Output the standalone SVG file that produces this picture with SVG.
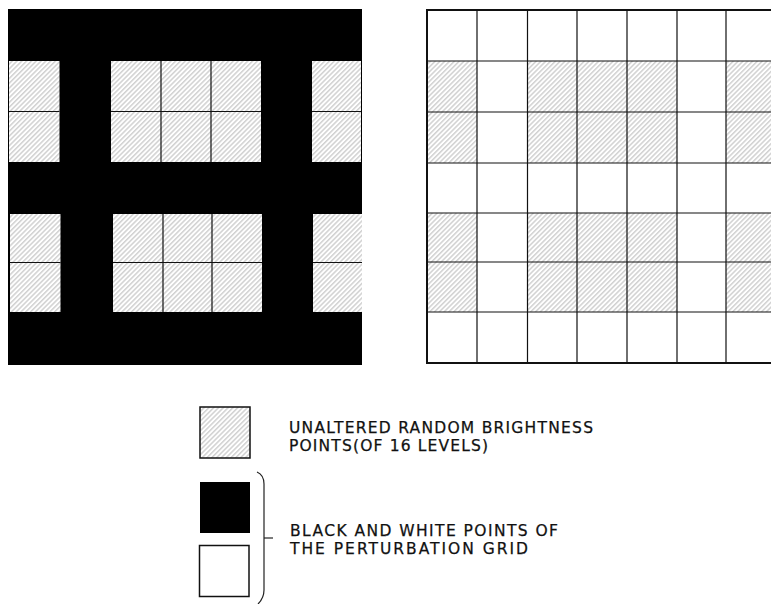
<svg xmlns="http://www.w3.org/2000/svg" width="771" height="604" viewBox="0 0 771 604">
  <defs>
    <pattern id="hatch" patternUnits="userSpaceOnUse" width="3.4" height="10" patternTransform="rotate(45)">
      <rect width="3.4" height="10" fill="#ffffff"/>
      <line x1="0.8" y1="0" x2="0.8" y2="10" stroke="#9a9a9a" stroke-width="0.75"/>
    </pattern>
  </defs>
  <style>
    .h { fill: url(#hatch); }
    .gl { stroke: #111; stroke-width: 1.2; fill: none; }
    .frame { stroke: #111; stroke-width: 2; fill: none; }
    .lbl { font-family: "DejaVu Sans", "Liberation Sans", sans-serif; font-size: 15.5px; fill: #111; stroke: #111; stroke-width: 0.25; }
    .brace { stroke: #222; stroke-width: 1.2; fill: none; }
  </style>
  <rect width="771" height="604" fill="#ffffff"/>

  <g id="left-grid">
    <rect x="8" y="9" width="354" height="356" fill="#000"/>
    <rect class="h" x="9" y="61" width="50.5" height="101"/>
    <rect class="h" x="111" y="61" width="150" height="101"/>
    <rect class="h" x="312" y="61" width="49" height="101"/>
    <rect class="h" x="10" y="214" width="50.5" height="98"/>
    <rect class="h" x="113" y="214" width="149" height="98"/>
    <rect class="h" x="313" y="214" width="49" height="98"/>
    <path class="gl" d="M9,111.5H59.5M111,111.5H261M312,111.5H361M161,61V162M211,61V162M10,262.5H60.5M113,262.5H262M313,262.5H362M163,214V312M212,214V312"/>
  </g>

  <g id="right-grid">
    <rect class="h" x="427" y="61" width="50" height="102"/>
    <rect class="h" x="527.5" y="61" width="149.5" height="102"/>
    <rect class="h" x="726" y="61" width="50" height="102"/>
    <rect class="h" x="427" y="213" width="50" height="99"/>
    <rect class="h" x="527.5" y="213" width="149.5" height="99"/>
    <rect class="h" x="726" y="213" width="50" height="99"/>
    <path class="gl" d="M477,10V363M527.5,10V363M577,10V363M627,10V363M677,10V363M726,10V363M427,61H776M427,112H776M427,163H776M427,213H776M427,262H776M427,312H776"/>
    <rect class="frame" x="427" y="10" width="360" height="353"/>
  </g>

  <g id="legend-hatched">
    <rect class="h" x="200" y="407" width="50" height="51" stroke="#111" stroke-width="1.5"/>
    <text class="lbl" x="289" y="433" textLength="304" lengthAdjust="spacing">UNALTERED RANDOM BRIGHTNESS</text>
    <text class="lbl" x="289" y="451" textLength="199" lengthAdjust="spacing">POINTS(OF 16 LEVELS)</text>
  </g>

  <g id="legend-black">
    <rect x="200" y="482" width="50" height="51" fill="#000"/>
  </g>

  <g id="legend-white">
    <rect x="199.5" y="545.5" width="49.5" height="51" fill="#fff" stroke="#111" stroke-width="1.5"/>
  </g>

  <g id="legend-bw-label">
    <text class="lbl" x="290" y="536" textLength="268" lengthAdjust="spacing">BLACK AND WHITE POINTS OF</text>
    <text class="lbl" x="290" y="554" textLength="238" lengthAdjust="spacing">THE PERTURBATION GRID</text>
  </g>

  <g id="connectors">
    <path class="brace" d="M257,472 Q264,475 264,484 V590 Q264,598 258,604"/>
    <path class="brace" d="M264,538 H273"/>
  </g>
</svg>
